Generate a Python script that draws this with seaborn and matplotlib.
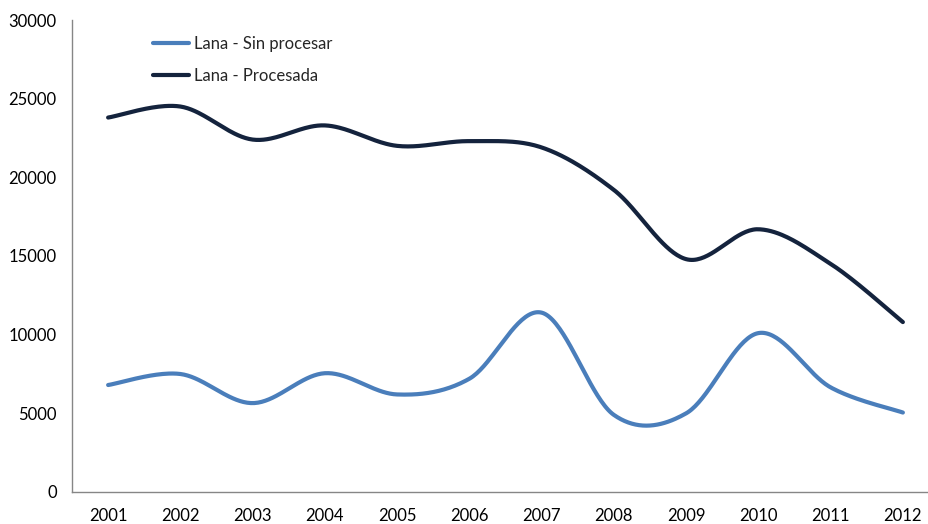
import numpy as np
import pandas as pd
import matplotlib
matplotlib.use("Agg")
import matplotlib.pyplot as plt
import seaborn as sns

years = ["2001", "2002", "2003", "2004", "2005", "2006",
         "2007", "2008", "2009", "2010", "2011", "2012"]
sin_procesar = [6800, 7500, 5650, 7550, 6200, 7200, 11400, 4900, 5000, 10100, 6650, 5050]
procesada = [23800, 24500, 22400, 23300, 22000, 22300, 21900, 19200, 14800, 16700, 14500, 10800]
series_names = ["Lana - Sin procesar", "Lana - Procesada"]
colors = ["#4A7EBB", "#14233D"]
yticks = [0, 5000, 10000, 15000, 20000, 25000, 30000]


def smooth(xs, ys, n=40):
    """Excel-style smoothed line (Catmull-Rom Bezier) through the data points."""
    xs = np.asarray(xs, float)
    ys = np.asarray(ys, float)
    px, py = [], []
    m = len(xs)
    for i in range(m - 1):
        i0 = max(i - 1, 0)
        i3 = min(i + 2, m - 1)
        c1x = xs[i] + (xs[i + 1] - xs[i0]) / 6.0
        c1y = ys[i] + (ys[i + 1] - ys[i0]) / 6.0
        c2x = xs[i + 1] - (xs[i3] - xs[i]) / 6.0
        c2y = ys[i + 1] - (ys[i3] - ys[i]) / 6.0
        t = np.linspace(0, 1, n, endpoint=(i == m - 2))
        b0 = (1 - t) ** 3
        b1 = 3 * (1 - t) ** 2 * t
        b2 = 3 * (1 - t) * t ** 2
        b3 = t ** 3
        px.append(b0 * xs[i] + b1 * c1x + b2 * c2x + b3 * xs[i + 1])
        py.append(b0 * ys[i] + b1 * c1y + b2 * c2y + b3 * ys[i + 1])
    return np.concatenate(px), np.concatenate(py)


sns.set_style("white")
plt.rcParams["font.family"] = ["Lato", "DejaVu Sans"]

x_idx = np.arange(len(years))
frames = []
for name, vals in zip(series_names, [sin_procesar, procesada]):
    sx, sy = smooth(x_idx, vals)
    frames.append(pd.DataFrame({"x": sx, "y": sy, "serie": name}))
df = pd.concat(frames, ignore_index=True)

fig = plt.figure(figsize=(9.29, 5.24), dpi=100)
ax = fig.add_axes([72 / 929, 32 / 524, 867 / 929, 472 / 524])

sns.lineplot(data=df, x="x", y="y", hue="serie", hue_order=series_names,
             palette=colors, linewidth=3.0, sort=False, estimator=None,
             ax=ax)

ax.set_xlim(-0.5, len(years) - 0.5)
ax.set_ylim(0, 30000)
ax.set_yticks(yticks)
ax.set_yticklabels([str(v) for v in yticks])
ax.set_xticks(x_idx)
ax.set_xticklabels(years)
ax.set_xticks(np.arange(-0.5, len(years), 1.0), minor=True)
ax.tick_params(axis="x", which="major", length=0, pad=11.5, labelsize=12, colors="#000000")
ax.tick_params(axis="x", which="minor", length=6, width=1, color="#868686", direction="out")
ax.tick_params(axis="y", which="major", length=6, width=1, color="#868686", direction="out",
               pad=5, labelsize=12, labelcolor="#000000")
ax.set_xlabel("")
ax.set_ylabel("")

for side in ["top", "right"]:
    ax.spines[side].set_visible(False)
for side in ["left", "bottom"]:
    ax.spines[side].set_color("#868686")
    ax.spines[side].set_linewidth(1)

leg = ax.legend(loc="upper left", bbox_to_anchor=(0.0855, 0.98), frameon=False,
                fontsize=12, handlelength=2.2, handletextpad=0.25,
                labelspacing=0.95, borderaxespad=0)
for h in leg.get_lines():
    h.set_linewidth(3.0)

fig.savefig("out.png", dpi=100)
